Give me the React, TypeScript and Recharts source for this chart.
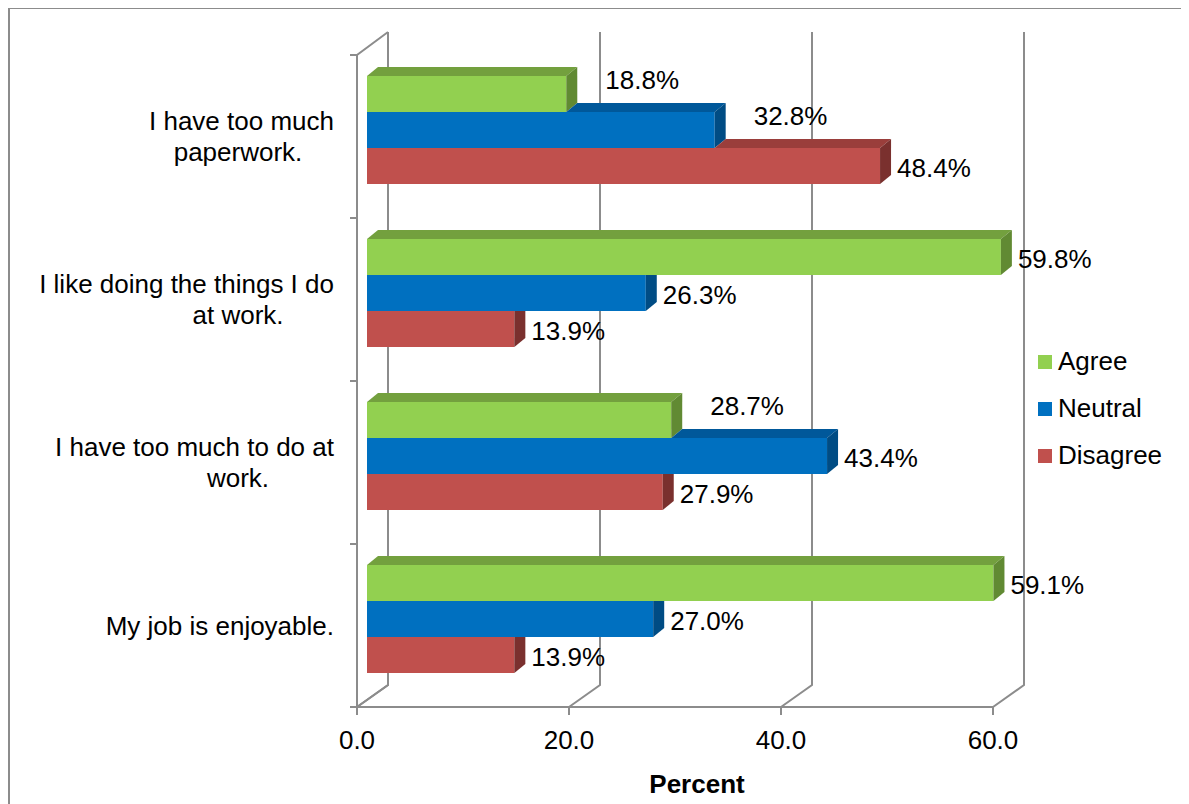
import { BarChart, Bar, XAxis, YAxis, CartesianGrid, Legend, LabelList } from "recharts";

const categories = [
  "I have too much\npaperwork.",
  "I like doing the things I do\nat work.",
  "I have too much to do at\nwork.",
  "My job is enjoyable.",
];
const seriesNames = ["Agree", "Neutral", "Disagree"];
const agree = [18.8, 59.8, 28.7, 59.1];
const neutral = [32.8, 26.3, 43.4, 27.0];
const disagree = [48.4, 13.9, 27.9, 13.9];
const xTicks = [0, 20, 40, 60];

const seriesValues = [agree, neutral, disagree];
const frontColors = ["#92D050", "#0070C0", "#C0504D"];
const topColors = ["#73A03E", "#00589A", "#9A3E3B"];
const sideColors = ["#618A33", "#004C84", "#7A302E"];

const data = categories.map((category, i) => ({
  category,
  Agree: agree[i],
  Neutral: neutral[i],
  Disagree: disagree[i],
}));

const FONT = "'Liberation Sans', Arial, sans-serif";
const W = 1181;
const H = 796;
const M = { top: 40, right: 186, bottom: 44, left: 59 };
const Y_AXIS_W = 300;
const X_AXIS_H = 60;
const L = M.left + Y_AXIS_W;
const R = W - M.right;
const T = M.top;
const B = H - M.bottom - X_AXIS_H;
// 3D offsets: front plane and back wall relative to bar plane
const FX = -10;
const FY = 7;
const BX = 21;
const BY = -15;
// bar depth
const DX = 11;
const DY = 9;
const GRID = "#8c8c8c";

function makeShape(s: number) {
  return (props: any) => {
    const { x, y, width, height, index } = props;
    const v = seriesValues[s][index];
    if (!v) return <g />;
    const end = x + width;
    const upperEnd = s > 0 ? x + (seriesValues[s - 1][index] * width) / v : null;
    let top = null;
    if (upperEnd === null) {
      top = `${x},${y} ${x + DX},${y - DY} ${end + DX},${y - DY} ${end},${y}`;
    } else if (end > upperEnd) {
      top = `${upperEnd},${y} ${upperEnd + DX},${y - DY} ${end + DX},${y - DY} ${end},${y}`;
    }
    const side =
      upperEnd === null || end > upperEnd
        ? `${end},${y} ${end + DX},${y - DY} ${end + DX},${y + height - DY} ${end},${y + height}`
        : `${end},${y} ${end + DX},${y} ${end + DX},${y + height - DY} ${end},${y + height}`;
    return (
      <g>
        <rect x={x} y={y} width={width} height={height} fill={frontColors[s]} />
        {top && <polygon points={top} fill={topColors[s]} />}
        <polygon points={side} fill={sideColors[s]} />
      </g>
    );
  };
}

function makeLabel(s: number) {
  return (props: any) => {
    const vb = props.viewBox ?? props;
    const { x, y, width, height } = vb;
    const idx = props.index;
    const value = seriesValues[s][idx];
    const next = s < seriesValues.length - 1 ? seriesValues[s + 1][idx] : -1;
    // label moves up-right when the bar below sticks out further
    const shifted = next > value;
    const tx = x + width + (shifted ? 39 : 17);
    const cy = y + height / 2 + (shifted ? -14 : 2);
    return (
      <text x={tx} y={cy + 9} fontSize={26} fontFamily={FONT} fill="#000">
        {value.toFixed(1)}%
      </text>
    );
  };
}

function CategoryTick(props: any) {
  const { y, payload } = props;
  const lines = String(payload.value).split("\n");
  const cy = y + FY;
  const first = cy - ((lines.length - 1) * 31) / 2 + 9;
  return (
    <g>
      {lines.map((line, i) => (
        <text
          key={i}
          x={i === 0 ? 326 : 230}
          y={first + i * 31}
          textAnchor={i === 0 ? "end" : "middle"}
          fontSize={26}
          fontFamily={FONT}
          fill="#000"
        >
          {line}
        </text>
      ))}
    </g>
  );
}

function ValueTick(props: any) {
  const { x, payload } = props;
  const fx = x + FX;
  return (
    <g>
      <line x1={fx} y1={B + FY} x2={fx} y2={B + FY + 8} stroke={GRID} strokeWidth={2} />
      <text x={fx} y={B + 49} textAnchor="middle" fontSize={26} fontFamily={FONT} fill="#000">
        {Number(payload.value).toFixed(1)}
      </text>
    </g>
  );
}

function GridLine(props: any) {
  const { x1, index } = props;
  const n = categories.length;
  const step = (B - T) / n;
  return (
    <g key={`g-${index}`}>
      <polyline
        points={`${x1 + FX},${B + FY} ${x1 + BX},${B + BY} ${x1 + BX},${T + BY - 1}`}
        fill="none"
        stroke={GRID}
        strokeWidth={2}
      />
      {index === 0 && (
        <g>
          <polyline
            points={`${L + BX},${T + BY - 1} ${L + FX},${T + FY} ${L + FX},${B + FY} ${R + FX},${B + FY}`}
            fill="none"
            stroke={GRID}
            strokeWidth={2}
          />
          <polyline
            points={`${L + FX},${B + FY} ${L + BX},${B + BY} ${L + BX},${T + BY - 1}`}
            fill="none"
            stroke={GRID}
            strokeWidth={2}
          />
          {categories.concat([""]).map((_, k) => (
            <line
              key={k}
              x1={L + FX - 7}
              x2={L + FX}
              y1={T + FY + k * step}
              y2={T + FY + k * step}
              stroke={GRID}
              strokeWidth={2}
            />
          ))}
        </g>
      )}
    </g>
  );
}

function LegendContent(props: any) {
  const payload = [...(props.payload ?? [])].sort(
    (a: any, b: any) => seriesNames.indexOf(a.value) - seriesNames.indexOf(b.value)
  );
  return (
    <div style={{ fontFamily: FONT, fontSize: 26 }}>
      {payload.map((p: any) => (
        <div key={p.value} style={{ display: "flex", alignItems: "center", height: 47 }}>
          <span style={{ width: 14, height: 14, background: p.color, marginRight: 6, display: "inline-block" }} />
          <span style={{ color: "#000" }}>{p.value}</span>
        </div>
      ))}
    </div>
  );
}

export default function App() {
  return (
    <div style={{ position: "relative", width: W, height: H, fontFamily: FONT }}>
      <div
        style={{
          position: "absolute",
          left: 0,
          top: -1,
          right: 0,
          bottom: 0,
          borderLeft: "2px solid #8c8c8c",
          borderTop: "2px solid #8c8c8c",
        }}
      />
      <BarChart
        width={W}
        height={H}
        data={data}
        layout="vertical"
        margin={M}
        barGap={0}
        barSize={36}
        style={{ position: "absolute", left: 0, top: 0 }}
      >
        <CartesianGrid horizontal={false} vertical={GridLine as any} />
        <XAxis
          type="number"
          domain={[0, 60]}
          ticks={xTicks}
          axisLine={false}
          tickLine={false}
          height={X_AXIS_H}
          tick={<ValueTick />}
          label={{
            content: () => (
              <text
                x={(L + R) / 2 + 12}
                y={B + 93}
                textAnchor="middle"
                fontSize={26}
                fontWeight="bold"
                fontFamily={FONT}
                fill="#000"
              >
                Percent
              </text>
            ),
          }}
        />
        <YAxis
          type="category"
          dataKey="category"
          width={Y_AXIS_W}
          axisLine={false}
          tickLine={false}
          interval={0}
          tick={<CategoryTick />}
        />
        <Legend
          layout="vertical"
          align="center"
          verticalAlign="middle"
          wrapperStyle={{ left: 1030, top: 330, width: 150 }}
          content={<LegendContent />}
        />
        {seriesNames.map((name, s) => (
          <Bar
            key={name}
            dataKey={name}
            fill={frontColors[s]}
            isAnimationActive={false}
            shape={makeShape(s)}
          >
            <LabelList dataKey={name} content={makeLabel(s)} />
          </Bar>
        ))}
      </BarChart>
    </div>
  );
}
